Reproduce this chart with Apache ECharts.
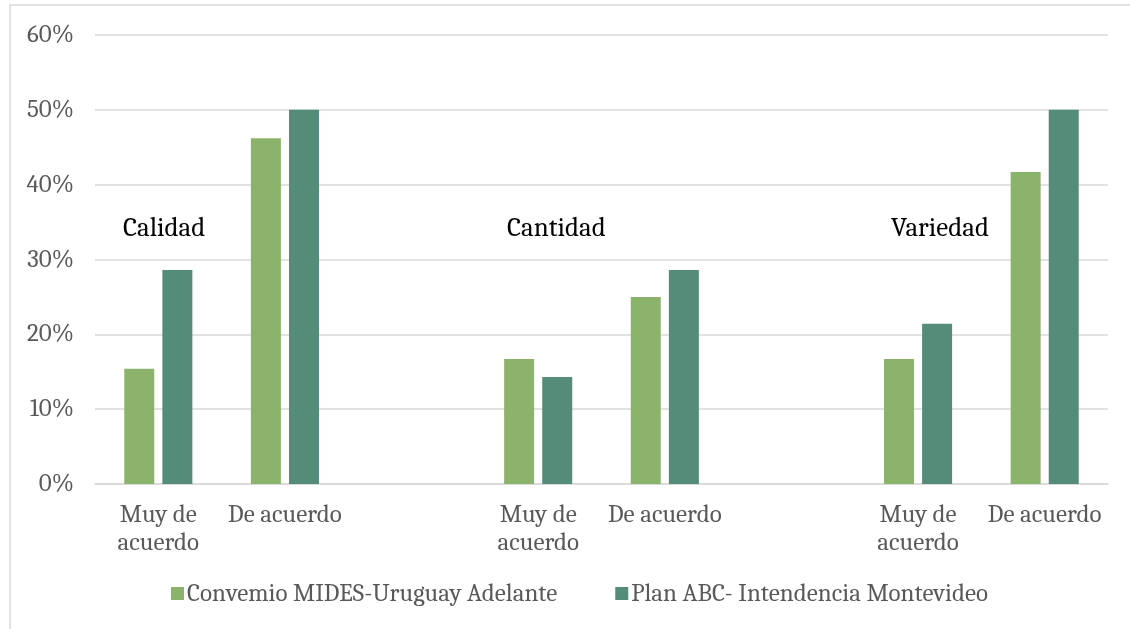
<!DOCTYPE html>
<html>
<head>
<meta charset="utf-8">
<script src="https://cdn.jsdelivr.net/npm/echarts@6/dist/echarts.min.js"></script>
<style>
  html, body { margin: 0; padding: 0; background: #fff; }
  #chart { width: 1130px; height: 629px; }
</style>
</head>
<body>
<div id="chart"></div>
<script>
// categorias (los vacios separan los tres grupos)
var categories = ['Muy de\nacuerdo', 'De acuerdo', '', 'Muy de\nacuerdo', 'De acuerdo', '', 'Muy de\nacuerdo', 'De acuerdo'];
var groupNames = ['Calidad', 'Cantidad', 'Variedad'];
var mides = [15.4, 46.2, null, 16.7, 25.0, null, 16.7, 41.7];
var abc = [28.6, 50.0, null, 14.3, 28.6, null, 21.4, 50.0];
var seriesNames = ['Convemio MIDES-Uruguay Adelante', 'Plan ABC- Intendencia Montevideo'];

var font = 'Cambria, "DejaVu Serif", serif';
var chart = echarts.init(document.getElementById('chart'));

var option = {
    animation: false,
    textStyle: { fontFamily: font },
    grid: { left: 95, right: 22, top: 35, bottom: 145, containLabel: false },
    legend: {
        bottom: 18,
        left: 166,
        itemWidth: 13,
        itemHeight: 13,
        itemGap: 58,
        icon: 'rect',
        textStyle: { fontFamily: font, fontSize: 25, color: '#595959', padding: [0, 0, 0, -2] },
        data: seriesNames
    },
    xAxis: {
        type: 'category',
        data: categories,
        axisLine: { lineStyle: { color: '#d9d9d9', width: 1.5 } },
        axisTick: { show: false },
        axisLabel: { interval: 0, fontFamily: font, fontSize: 25, color: '#595959', lineHeight: 28, margin: 17 }
    },
    yAxis: {
        type: 'value',
        min: 0,
        max: 60,
        interval: 10,
        axisLine: { show: false },
        axisTick: { show: false },
        splitLine: { lineStyle: { color: '#d9d9d9', width: 1.5 } },
        axisLabel: { formatter: '{value}%', fontFamily: font, fontSize: 25, color: '#595959', margin: 21 }
    },
    series: [
        {
            name: seriesNames[0],
            type: 'bar',
            data: mides,
            barWidth: 30,
            barGap: '27%',
            itemStyle: { color: '#8cb36b' }
        },
        {
            name: seriesNames[1],
            type: 'bar',
            data: abc,
            barWidth: 30,
            itemStyle: { color: '#558b79' }
        }
    ],
    graphic: [
        { type: 'rect', shape: { x: 10, y: 5, width: 1200, height: 700 }, style: { fill: 'none', stroke: '#d9d9d9', lineWidth: 1.5 }, silent: true },
        { type: 'text', left: 123, top: 215, style: { text: groupNames[0], font: '27px ' + font, fill: '#000' } },
        { type: 'text', left: 507, top: 215, style: { text: groupNames[1], font: '27px ' + font, fill: '#000' } },
        { type: 'text', left: 891, top: 215, style: { text: groupNames[2], font: '27px ' + font, fill: '#000' } }
    ]
};

chart.setOption(option);
</script>
</body>
</html>
